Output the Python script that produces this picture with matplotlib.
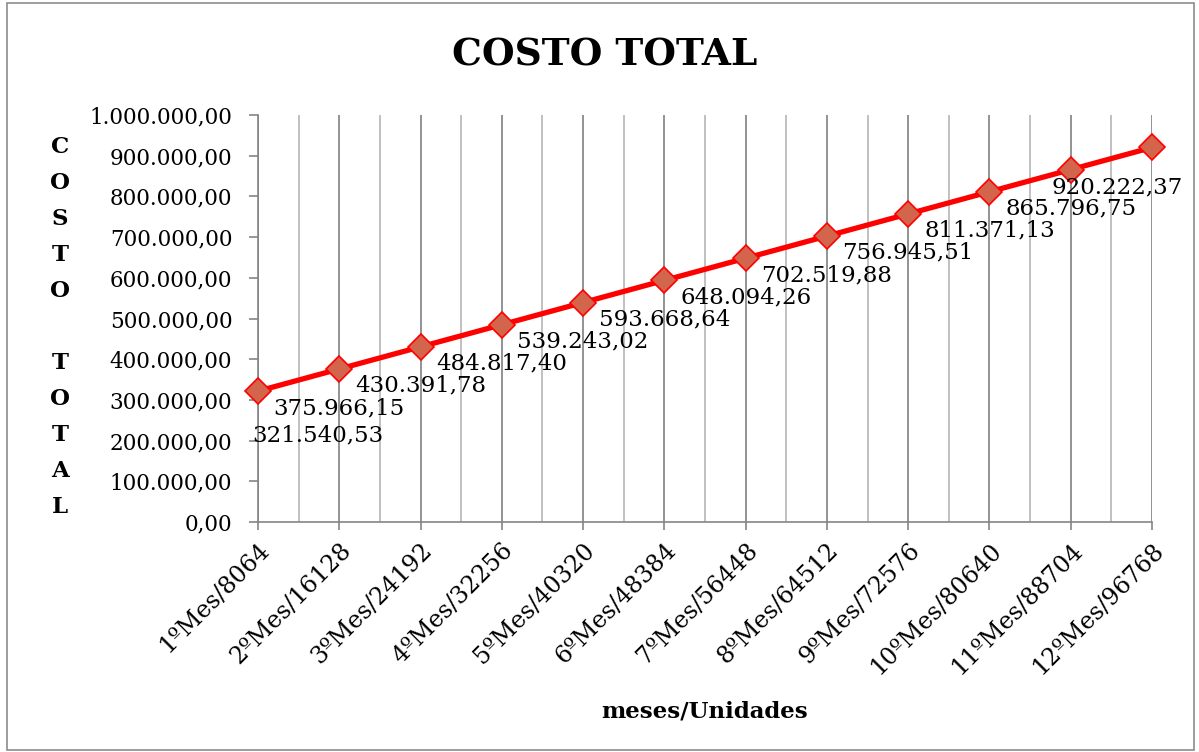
import matplotlib
matplotlib.use("Agg")
import matplotlib.pyplot as plt
from matplotlib.patches import Rectangle
from matplotlib.ticker import FixedLocator, FuncFormatter

categories = ["1ºMes/8064", "2ºMes/16128", "3ºMes/24192", "4ºMes/32256",
              "5ºMes/40320", "6ºMes/48384", "7ºMes/56448", "8ºMes/64512",
              "9ºMes/72576", "10ºMes/80640", "11ºMes/88704", "12ºMes/96768"]
costo_total = [321540.53, 375966.15, 430391.78, 484817.40, 539243.02, 593668.64,
               648094.26, 702519.88, 756945.51, 811371.13, 865796.75, 920222.37]
y_ticks = [0, 100000, 200000, 300000, 400000, 500000, 600000, 700000, 800000, 900000, 1000000]

title = "COSTO TOTAL"
x_title = "meses/Unidades"
y_title = "COSTO  TOTAL"


def fmt_es(v, pos=None):
    s = f"{v:,.2f}"
    return s.replace(",", "X").replace(".", ",").replace("X", ".")


SERIF = "DejaVu Serif"
fig = plt.figure(figsize=(11.99, 7.52), dpi=100)
fig.patch.set_facecolor("white")
fig.add_artist(Rectangle((0.006, 0.003), 0.99, 0.993, transform=fig.transFigure,
                         fill=False, edgecolor="#8c8c8c", linewidth=1.2))

ax = fig.add_axes([258 / 1199, 1 - 522 / 752, (1152 - 258) / 1199, (522 - 115) / 752])
x = list(range(len(categories)))
ax.plot(x, costo_total, color="#ff0000", linewidth=3.8, marker="D", markersize=13,
        markerfacecolor="#d2654c", markeredgecolor="#ff0000", markeredgewidth=1.2,
        zorder=5, clip_on=False)

ax.set_xlim(0, len(categories) - 1)
ax.set_ylim(0, 1000000)
ax.set_yticks(y_ticks)
ax.yaxis.set_major_formatter(FuncFormatter(fmt_es))
ax.set_xticks(x)
ax.set_xticklabels(categories, rotation=45, ha="right", rotation_mode="anchor",
                   fontfamily=SERIF, fontsize=17)
ax.xaxis.set_minor_locator(FixedLocator([i + 0.5 for i in range(len(categories) - 1)]))
for lbl in ax.get_yticklabels():
    lbl.set_fontfamily(SERIF)
    lbl.set_fontsize(15.5)

ax.grid(axis="x", which="major", color="#808080", linewidth=1.2, zorder=0)
ax.grid(axis="x", which="minor", color="#b5b5b5", linewidth=1.2, zorder=0)
ax.tick_params(axis="x", which="minor", length=0)
ax.tick_params(axis="x", which="major", length=6, width=1.2, color="#858585", pad=6)
ax.tick_params(axis="y", which="major", length=6.5, width=1.2, color="#858585", pad=12)
for side in ["top", "right"]:
    ax.spines[side].set_visible(False)
for side in ["left", "bottom"]:
    ax.spines[side].set_color("#858585")
    ax.spines[side].set_linewidth(1.2)

# data labels (offsets in pixels)
offsets = [(60, -44)] + [(0, -39)] * 10 + [(-35, -40)]
for i, v in enumerate(costo_total):
    dx, dy = offsets[i]
    ax.annotate(fmt_es(v), (i, v), xytext=(dx * 0.72, dy * 0.72), textcoords="offset points",
                ha="center", va="center", fontfamily=SERIF, fontsize=16.5, zorder=6,
                annotation_clip=False)

fig.text(605 / 1199, 1 - 55 / 752, title, ha="center", va="center",
         fontfamily=SERIF, fontweight="bold", fontsize=27)
fig.text(705 / 1199, 1 - 712 / 752, x_title, ha="center", va="center",
         fontfamily=SERIF, fontweight="bold", fontsize=16.5)
fig.text(60 / 1199, 1 - 327 / 752, "\n".join(list(y_title.replace("  ", " "))), ha="center",
         va="center", fontfamily=SERIF, fontweight="bold", fontsize=16.5, linespacing=1.82)

fig.savefig("out.png", dpi=100, facecolor="white")
